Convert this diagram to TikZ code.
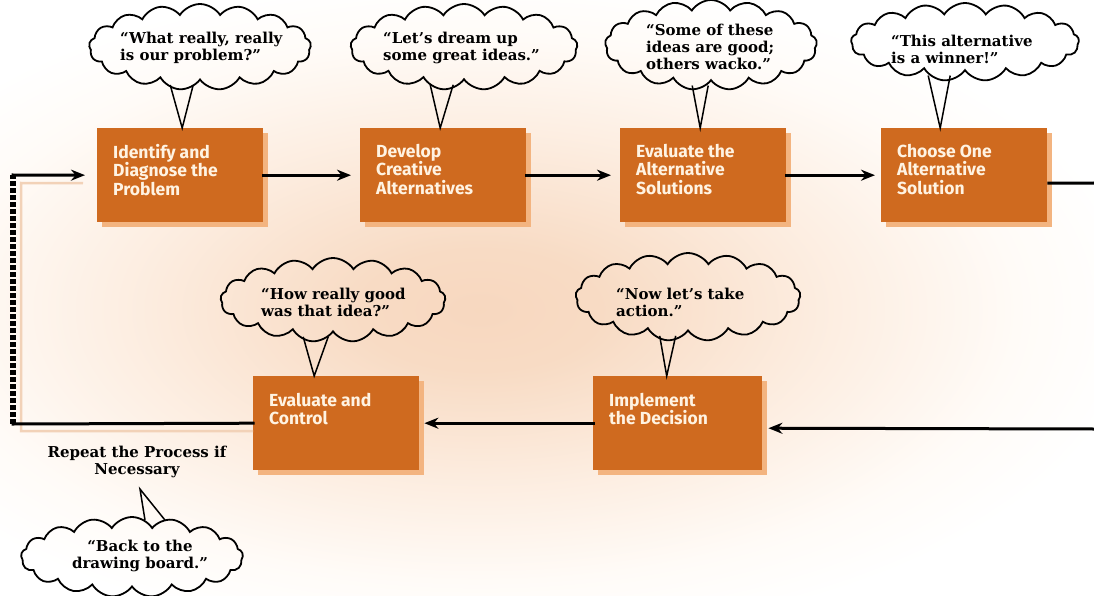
\documentclass[tikz,border=0pt]{standalone}
\usepackage{fontspec}
\setmainfont{DejaVu Serif}
\newfontfamily\boxfont{Fira Sans}
\newfontfamily\quotefont{DejaVu Serif}
\usetikzlibrary{shapes.symbols,arrows.meta,calc}

\definecolor{stepfill}{RGB}{207,106,31}
\definecolor{stepshade}{RGB}{243,180,128}
\definecolor{steptext}{RGB}{255,243,226}
\definecolor{lineshade}{RGB}{242,210,184}

% warm glow behind the whole chart (25bp = edge of the filled box)
\pgfdeclareradialshading{bgglow}{\pgfpoint{0bp}{0bp}}{%
  rgb(0bp)=(0.97,0.845,0.75); rgb(5bp)=(0.972,0.86,0.77);
  rgb(14bp)=(0.99,0.93,0.88); rgb(22bp)=(1,0.985,0.97);
  rgb(27bp)=(1,1,1); rgb(50bp)=(1,1,1)}

\tikzset{
  stepbox/.style={rectangle, fill=stepfill, minimum width=166pt,
    minimum height=94pt, inner sep=0pt, anchor=north west,
    preaction={fill=stepshade, transform canvas={shift={(5pt,-5pt)}}}},
  steplabel/.style={anchor=north west, inner sep=0pt, align=left,
    text=steptext, font=\boxfont\bfseries\fontsize{17.5}{18.5}\selectfont},
  thought/.style={cloud, draw=black, line width=1.8pt, cloud puffs=17,
    cloud puff arc=115, cloud ignores aspect, inner sep=0pt},
  quote/.style={anchor=west, inner sep=0pt, align=left,
    font=\quotefont\bfseries\fontsize{15}{17}\selectfont},
  pointer/.style={draw=black, line width=1.5pt, line join=miter},
  conn/.style={line width=3pt, line cap=rect},
  arr/.style={conn, -{Stealth[length=14pt,width=11pt]}},
  loopdash/.style={line width=6pt, dash pattern=on 5pt off 2pt},
  shadowline/.style={draw=lineshade, line width=2.5pt}
}

\begin{document}
\begin{tikzpicture}[x=1pt,y=-1pt]
\useasboundingbox (0,0) rectangle (1094,596);
\begin{scope}
  \clip (0,0) rectangle (1094,596);
  \fill[shading=bgglow] (-134,0) rectangle (1094,620);
\end{scope}

% process steps
\node[stepbox] (b1) at (97,128) {};
\node[stepbox] (b2) at (360,128) {};
\node[stepbox] (b3) at (620,128) {};
\node[stepbox] (b4) at (881,128) {};
\node[stepbox] (b5) at (253,376) {};
\node[stepbox, minimum width=169pt] (b6) at (593,376) {};

\node[steplabel] (l1) at ($(b1.north west)+(16,16)$) {Identify and\\Diagnose the\\Problem};
\node[steplabel] (l2) at ($(b2.north west)+(16,16)$) {Develop\\Creative\\Alternatives};
\node[steplabel] (l3) at ($(b3.north west)+(16,16)$) {Evaluate the\\Alternative\\Solutions};
\node[steplabel] (l4) at ($(b4.north west)+(16,16)$) {Choose One\\Alternative\\Solution};
\node[steplabel] (l5) at ($(b5.north west)+(16,17)$) {Evaluate and\\Control};
\node[steplabel] (l6) at ($(b6.north west)+(16,17)$) {Implement\\the Decision};

% thought clouds
\node[thought, minimum width=222pt, minimum height=86pt] (c1) at (200,47) {};
\node[thought, minimum width=227pt, minimum height=86pt] (c2) at (464,47) {};
\node[thought, minimum width=212pt, minimum height=90pt] (c3) at (711,45) {};
\node[thought, minimum width=228pt, minimum height=78pt] (c4) at (965,42) {};
\node[thought, minimum width=225pt, minimum height=84pt] (c5) at (333,300) {};
\node[thought, minimum width=225pt, minimum height=88pt] (c6) at (688,297) {};
\node[thought, minimum width=222pt, minimum height=80pt] (c7) at (132,557) {};

\node[quote] (q1) at (120,48) {“What really, really\\is our problem?”};
\node[quote] (q2) at (383,48) {“Let’s dream up\\some great ideas.”};
\node[quote] (q3) at (646,47) {“Some of these\\ideas are good;\\others wacko.”};
\node[quote] (q4) at (891,49) {“This alternative\\is a winner!”};
\node[quote] (q5) at (261,302) {“How really good\\was that idea?”};
\node[quote] (q6) at (616,302) {“Now let’s take\\action.”};
\node[quote, anchor=center, align=center] (q7) at (140,556) {“Back to the\\drawing board.”};
\node[quote, anchor=center, align=center] (rep) at (137,462) {Repeat the Process if\\Necessary};

% pointers from the clouds: tip on the step, feet on the cloud rim
\coordinate (p1) at ([xshift=2pt]b1.north);
\coordinate (p2) at ([xshift=-3pt]b2.north);
\coordinate (p3) at ([xshift=-3pt]b3.north);
\coordinate (p4) at ([xshift=-24pt]b4.north);
\coordinate (p5) at ([xshift=-22pt]b5.north);
\coordinate (p6) at ([xshift=-11pt]b6.north);
\coordinate (p7) at ([xshift=3pt,yshift=-11pt]rep.south);
\draw[pointer] ($(c1.south -| p1)+(-12,4)$) -- (p1) -- ($(c1.south -| p1)+(11,4)$);
\draw[pointer] ($(c2.south -| p2)+(-10,4)$) -- (p2) -- ($(c2.south -| p2)+(13,4)$);
\draw[pointer] ($(c3.south -| p3)+(-8,4)$) -- (p3) -- ($(c3.south -| p3)+(8,4)$);
\draw[pointer] ($(c4.south -| p4)+(-12,4)$) -- (p4) -- ($(c4.south -| p4)+(10,4)$);
\draw[pointer] ($(c5.south -| p5)+(-11,4)$) -- (p5) -- ($(c5.south -| p5)+(14,4)$);
\draw[pointer] ($(c6.south -| p6)+(-7,4)$) -- (p6) -- ($(c6.south -| p6)+(9,4)$);
\draw[pointer] ($(c7.north -| p7)+(5,4)$) -- (p7) -- ($(c7.north -| p7)+(25,4)$);

% flow along the top row
\draw[arr, shorten >=9pt] (b1.east) -- (b2.west);
\draw[arr, shorten >=9pt] (b2.east) -- (b3.west);
\draw[arr, shorten >=6pt] (b3.east) -- (b4.west);

% out past the right edge and back
\coordinate (r1) at (1094,183);
\coordinate (r2) at (1094,429);
\draw[conn, line cap=butt] ([yshift=-8pt]b4.east) -- (r1);
\draw[arr, line cap=butt, shorten >=6pt] (r2) -- ([yshift=-5pt]b6.east);
\draw[arr, shorten >=5pt] (b6.west) -- (b5.east);

% feedback loop to the first step
\coordinate (lb) at (13,424);
\coordinate (lt) at (13,175);
\draw[shadowline] ($(b5.west)+(0,8)$) -| ($(lt)+(8,8)$) -- ($(b1.west)+(-14,8)$);
\draw[conn] (b5.west) -- (lb);
\draw[loopdash] (lb) -- (lt);
\draw[arr, shorten >=12pt] (lt) -- (b1.west);
\end{tikzpicture}
\end{document}
